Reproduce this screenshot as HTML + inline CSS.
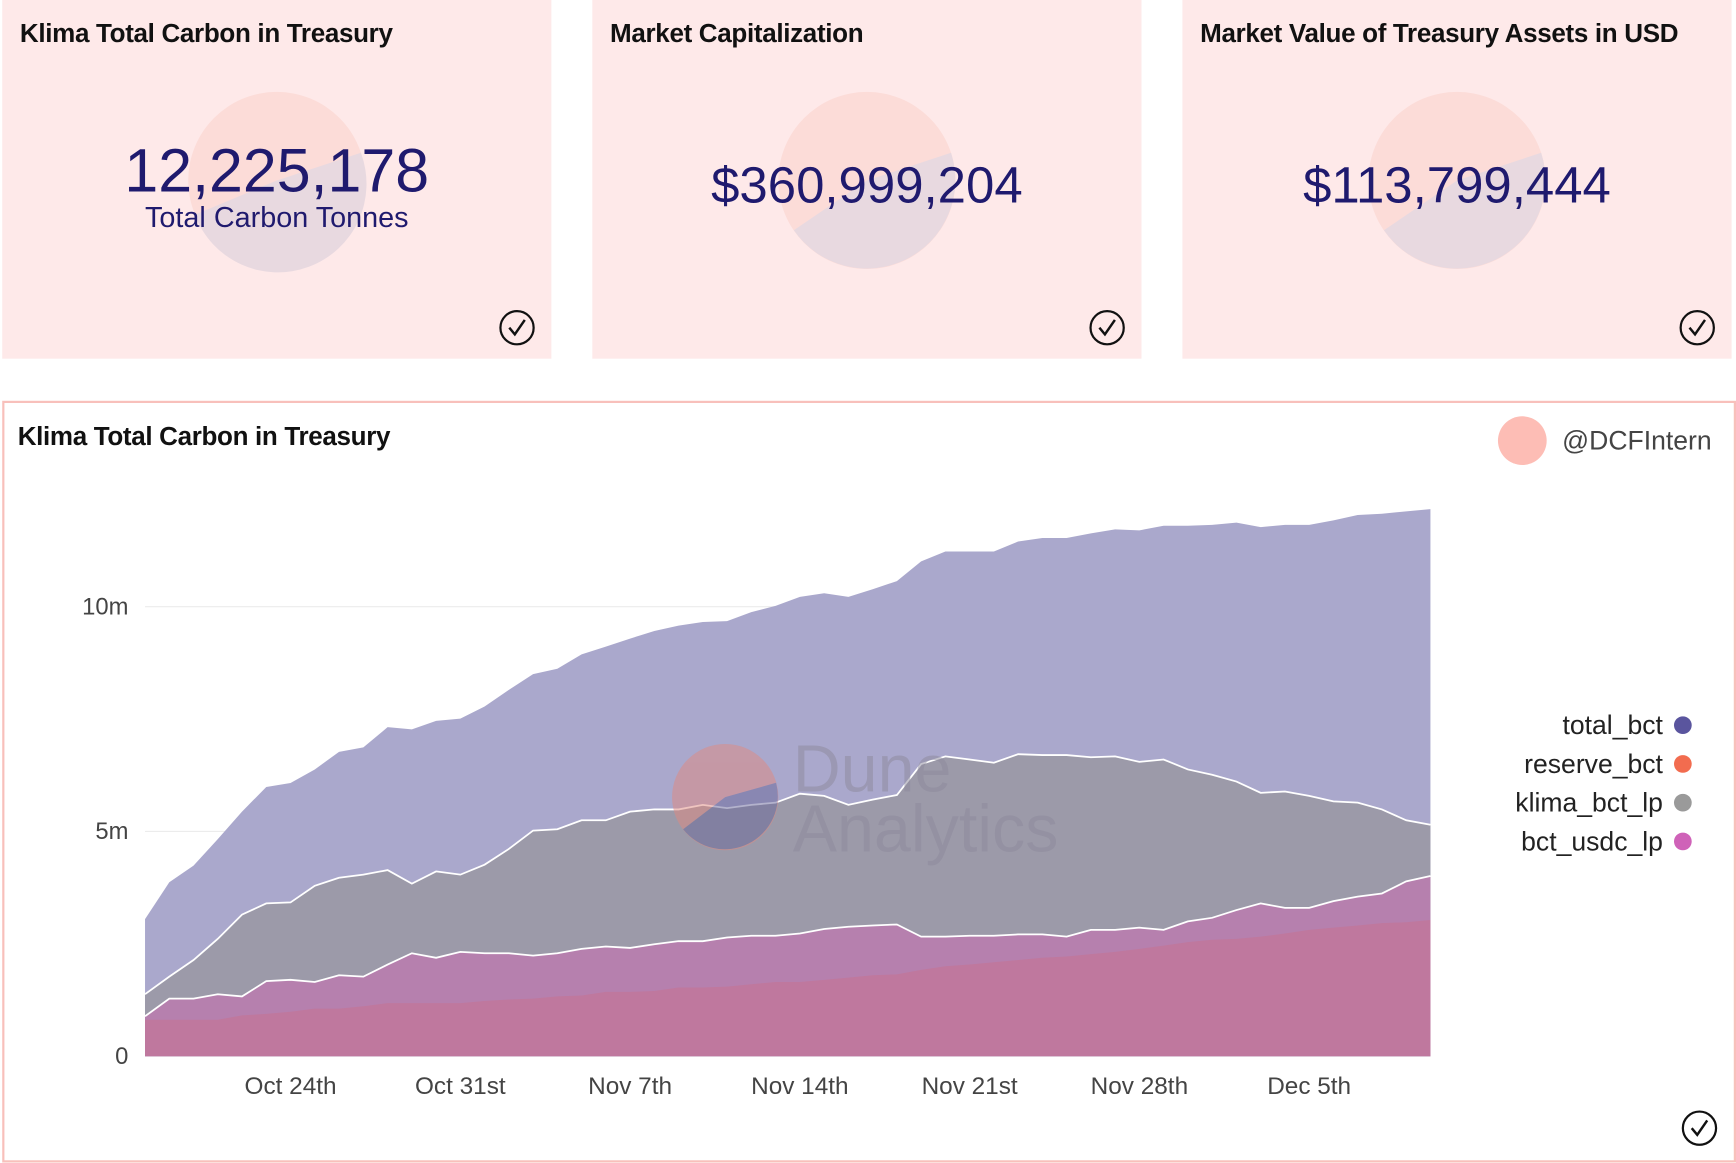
<!DOCTYPE html>
<html><head><meta charset="utf-8">
<style>
html,body{margin:0;padding:0;background:#fff;overflow:hidden;}
body{width:1736px;height:1162px;}
#stage{position:absolute;left:0;top:0;width:1568px;height:1050px;transform:scale(1.10714);transform-origin:0 0;font-family:"Liberation Sans",sans-serif;}
.card{position:absolute;top:0;width:496px;height:324px;background:#fee9e9;overflow:hidden;}
.ctitle{position:absolute;left:16px;top:17px;font-size:23.5px;font-weight:bold;color:#111;white-space:nowrap;letter-spacing:-0.3px;}
.big{position:absolute;left:0;width:100%;text-align:center;color:#1f1a6e;font-size:46px;}
#panel{position:absolute;left:2px;top:362px;width:1562px;height:684px;border:2px solid #f8c0bb;background:#fff;}
</style></head><body>
<div id="stage">
 <div class="card" style="left:2px">
  <svg width="496" height="324" style="position:absolute;left:0;top:0">
   <circle cx="248" cy="163" r="80" fill="#fcdcd8"/>
   <path d="M248,163 L324,138 A80,80 0 0 1 174,194 Z" fill="#e8d9e0"/>
   <circle cx="465" cy="296" r="15" fill="none" stroke="#111" stroke-width="2"/>
   <path d="M458,296 L463,302 L472,289" fill="none" stroke="#111" stroke-width="2.2"/>
  </svg>
  <div class="ctitle">Klima Total Carbon in Treasury</div>
  <div class="big" style="top:122px;font-size:55px">12,225,178</div>
  <div class="big" style="top:181px;font-size:26px">Total Carbon Tonnes</div>
 </div>
 <div class="card" style="left:535px">
  <svg width="496" height="324" style="position:absolute;left:0;top:0">
   <circle cx="248" cy="163" r="80" fill="#fcdcd8"/>
   <path d="M248,163 L324,138 A80,80 0 0 1 182,208 Z" fill="#e8d9e0"/>
   <circle cx="465" cy="296" r="15" fill="none" stroke="#111" stroke-width="2"/>
   <path d="M458,296 L463,302 L472,289" fill="none" stroke="#111" stroke-width="2.2"/>
  </svg>
  <div class="ctitle">Market Capitalization</div>
  <div class="big" style="top:140px">$360,999,204</div>
 </div>
 <div class="card" style="left:1068px">
  <svg width="496" height="324" style="position:absolute;left:0;top:0">
   <circle cx="248" cy="163" r="80" fill="#fcdcd8"/>
   <path d="M248,163 L324,138 A80,80 0 0 1 182,208 Z" fill="#e8d9e0"/>
   <circle cx="465" cy="296" r="15" fill="none" stroke="#111" stroke-width="2"/>
   <path d="M458,296 L463,302 L472,289" fill="none" stroke="#111" stroke-width="2.2"/>
  </svg>
  <div class="ctitle">Market Value of Treasury Assets in USD</div>
  <div class="big" style="top:140px">$113,799,444</div>
 </div>
 <div id="panel"></div>
 <svg id="chart" width="1568" height="1050" style="position:absolute;left:0;top:0"></svg>
</div>
<script>
const dates = ["Oct 24th","Oct 31st","Nov 7th","Nov 14th","Nov 21st","Nov 28th","Dec 5th"];
const dateIdx = [6,13,20,27,34,41,48];
const yTicks = [0,5,10];
const yTickLabels = ["0","5m","10m"];
const totalBct = [3.05,3.87,4.24,4.83,5.44,5.99,6.08,6.38,6.77,6.87,7.32,7.27,7.46,7.51,7.78,8.15,8.50,8.62,8.94,9.11,9.29,9.46,9.58,9.66,9.68,9.88,10.02,10.22,10.30,10.22,10.39,10.57,11.01,11.23,11.23,11.23,11.45,11.53,11.53,11.63,11.72,11.70,11.80,11.80,11.82,11.87,11.77,11.82,11.82,11.92,12.04,12.07,12.12,12.17];
const klimaBctLp = [1.38,1.77,2.14,2.61,3.15,3.40,3.42,3.79,3.97,4.04,4.14,3.84,4.11,4.04,4.26,4.61,5.02,5.05,5.25,5.25,5.44,5.49,5.49,5.59,5.52,5.59,5.64,5.84,5.79,5.59,5.71,5.81,6.50,6.67,6.60,6.53,6.72,6.70,6.70,6.65,6.67,6.55,6.60,6.38,6.26,6.11,5.86,5.89,5.79,5.67,5.64,5.49,5.25,5.15];
const bctUsdcLp = [0.89,1.28,1.28,1.38,1.33,1.67,1.70,1.65,1.80,1.77,2.04,2.29,2.19,2.32,2.29,2.29,2.24,2.29,2.39,2.44,2.41,2.49,2.56,2.56,2.64,2.68,2.68,2.73,2.83,2.88,2.91,2.93,2.66,2.66,2.68,2.68,2.71,2.71,2.66,2.81,2.81,2.86,2.81,3.00,3.08,3.25,3.40,3.30,3.30,3.45,3.55,3.62,3.89,4.01];
const reserveBct = [0.81,0.81,0.81,0.81,0.91,0.94,0.99,1.06,1.06,1.11,1.18,1.18,1.18,1.18,1.23,1.26,1.28,1.33,1.35,1.43,1.43,1.45,1.53,1.53,1.55,1.60,1.65,1.65,1.70,1.75,1.80,1.82,1.92,2.00,2.04,2.09,2.14,2.19,2.22,2.27,2.32,2.39,2.46,2.54,2.59,2.61,2.66,2.73,2.81,2.86,2.91,2.96,2.98,3.03];
const legendNames = ["total_bct","reserve_bct","klima_bct_lp","bct_usdc_lp"];
const legendColors = ["#5a559e","#f26c4f","#9a9a9a","#cf62b8"];

const svg = document.getElementById('chart');
const NS = 'http://www.w3.org/2000/svg';
const X0 = 131, X1 = 1292, Y0 = 954, PXM = 40.6;
const n = totalBct.length;
function xs(i){ return X0 + i*(X1-X0)/(n-1); }
function ys(v){ return Y0 - v*PXM; }
function mk(tag, attrs){ const e=document.createElementNS(NS,tag); for(const k in attrs) e.setAttribute(k,attrs[k]); svg.appendChild(e); return e; }

let t = mk('text',{x:16,y:402,'font-size':23.5,'font-weight':'bold',fill:'#111','letter-spacing':'-0.3'});
t.textContent='Klima Total Carbon in Treasury';


let av = mk('circle',{cx:1375,cy:398,r:22,fill:'#fdbdb5'});


let un = mk('text',{x:1411,y:406,'font-size':24,fill:'#444'});
un.textContent='@DCFIntern';



yTicks.forEach((v,i)=>{
  if(v>0){ const g=mk('line',{x1:X0,x2:X1,y1:ys(v),y2:ys(v),stroke:'#ececec','stroke-width':1});
    
     }
  const l=mk('text',{x:116,y:ys(v)+7,'text-anchor':'end','font-size':21.5,fill:'#444'});
  l.textContent=yTickLabels[i];
  
  
});

function area(vals, fill, name, stroke){
  let d='M'+xs(0)+','+Y0;
  vals.forEach((v,i)=>{ d+=' L'+xs(i).toFixed(1)+','+ys(v).toFixed(1); });
  d+=' L'+xs(n-1)+','+Y0+' Z';
  const p=mk('path',{d:d,fill:fill});
  
  
  if(stroke){
    let d2='M'+vals.map((v,i)=>xs(i).toFixed(1)+','+ys(v).toFixed(1)).join(' L');
    const s=mk('path',{d:d2,fill:'none',stroke:'#fff','stroke-width':1.6});
    
    
  }
}
area(totalBct,'#aaa8cc','area-total-bct',false);
area(klimaBctLp,'#9c9aa9','area-klima-bct-lp',true);
area(bctUsdcLp,'#b680ae','area-bct-usdc-lp',true);
area(reserveBct,'#bf789e','area-reserve-bct',false);

const wm=mk('g',{opacity:0.5});


const c1=document.createElementNS(NS,'circle'); c1.setAttribute('cx',655);c1.setAttribute('cy',720);c1.setAttribute('r',48);c1.setAttribute('fill','#e08a80');wm.appendChild(c1);
const c2=document.createElementNS(NS,'path'); c2.setAttribute('d','M655,720 L701,707 A48,48 0 0 1 617,749 Z');c2.setAttribute('fill','#6a679a');wm.appendChild(c2);
const w1=document.createElementNS(NS,'text');w1.setAttribute('x',716);w1.setAttribute('y',715);w1.setAttribute('font-size',60);w1.setAttribute('fill','#8d8a9c');w1.textContent='Dune';wm.appendChild(w1);
const w2=document.createElementNS(NS,'text');w2.setAttribute('x',716);w2.setAttribute('y',769);w2.setAttribute('font-size',60);w2.setAttribute('fill','#8d8a9c');w2.textContent='Analytics';wm.appendChild(w2);

dates.forEach((d,i)=>{
  const l=mk('text',{x:xs(dateIdx[i]),y:988,'text-anchor':'middle','font-size':22,fill:'#444'});
  l.textContent=d;
  
  
});

legendNames.forEach((nm,i)=>{
  const y=655+i*35;
  const l=mk('text',{x:1502,y:y+8,'text-anchor':'end','font-size':24,fill:'#222'});
  l.textContent=nm;
  
  
  const c=mk('circle',{cx:1520,cy:y,r:8,fill:legendColors[i]});
  
  
});

const ck=mk('circle',{cx:1535,cy:1019,r:15,fill:'none',stroke:'#111','stroke-width':2});


mk('path',{d:'M1528,1019 L1533,1025 L1542,1012',fill:'none',stroke:'#111','stroke-width':2.2});
</script>
</body></html>
